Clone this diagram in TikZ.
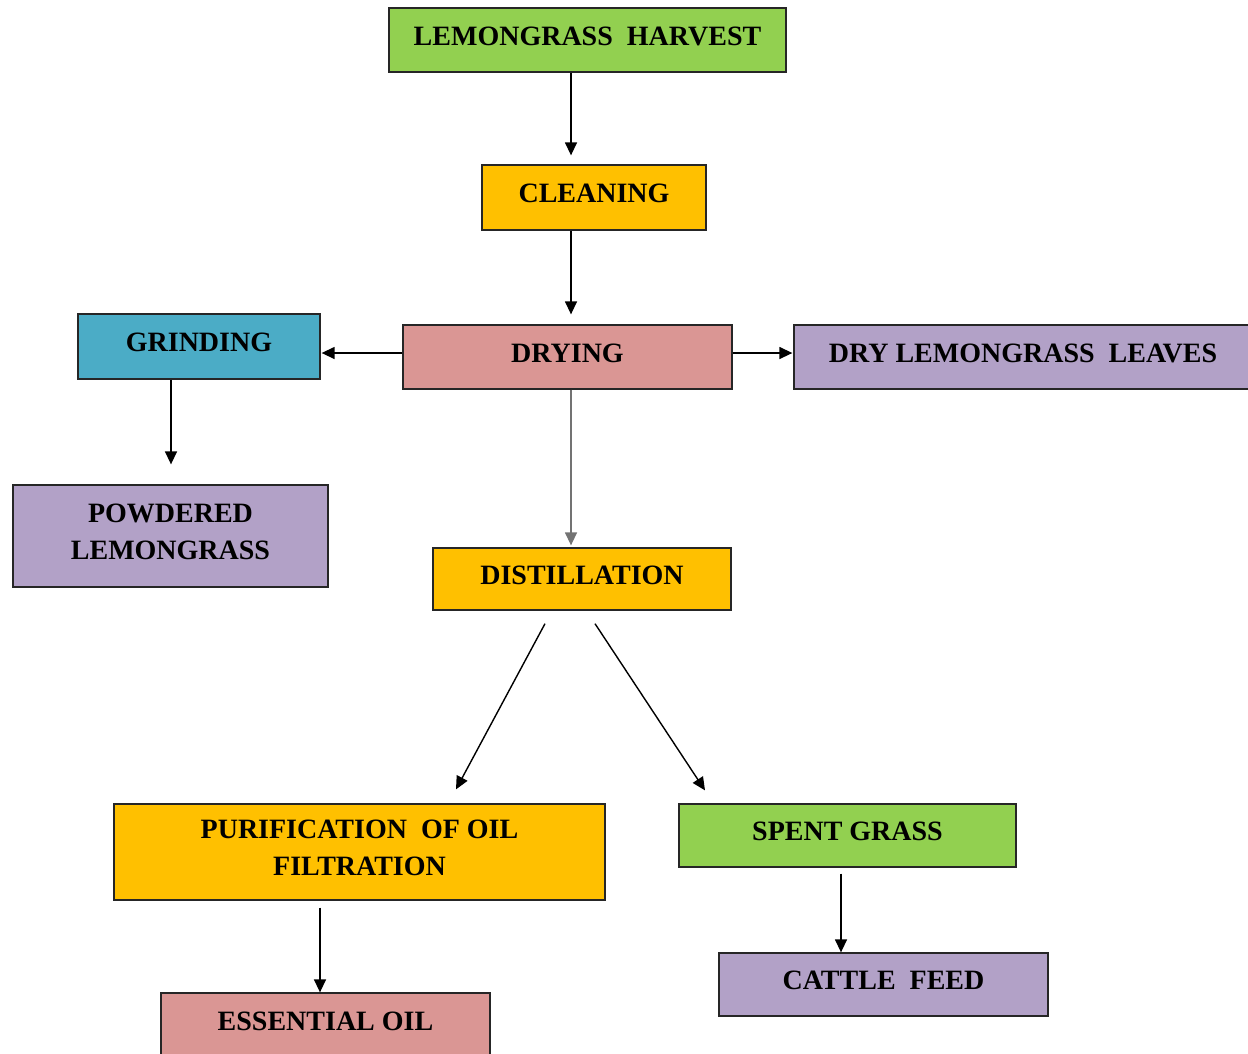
\documentclass[tikz,border=0pt]{standalone}
\usepackage{fontspec}
\setmainfont{Liberation Serif}
\usepackage{tikz}
\usetikzlibrary{%
  arrows.meta,%
  calc%
}
\definecolor{leafgreen}{HTML}{92D050}
\definecolor{gold}{HTML}{FFC000}
\definecolor{rose}{HTML}{DA9694}
\definecolor{lilac}{HTML}{B2A1C7}
\definecolor{teal}{HTML}{4BACC6}
\tikzset{>={Triangle[length=13pt,width=12pt]}}
\tikzset{
  stage/.style={draw=black!85,line width=1.3pt,inner sep=0pt,align=center,
    text depth=8pt,font=\fontsize{28}{37}\selectfont\bfseries},
  flow/.style={->,line width=1.4pt}
}

\begin{document}
\begin{tikzpicture}[x=1pt,y=-1pt]
    \useasboundingbox (0,0) rectangle (1248,1053);
    \node[stage,fill=leafgreen,minimum width=397,minimum height=64] (harvest) at (587.5,40) {LEMONGRASS\enspace HARVEST};
    \node[stage,fill=gold,minimum width=224,minimum height=65] (cleaning) at (594,197.5) {CLEANING};
    \node[stage,fill=rose,minimum width=329,minimum height=64] (drying) at (567.5,357) {DRYING};
    \node[stage,fill=teal,minimum width=242,minimum height=65] (grinding) at (199,346.5) {GRINDING};
    \node[stage,fill=lilac,minimum width=458,minimum height=64] (leaves) at (1023,357) {DRY LEMONGRASS\enspace LEAVES};
    \node[stage,fill=lilac,minimum width=315,minimum height=102] (powder) at (170.5,536) {POWDERED\\LEMONGRASS};
    \node[stage,fill=gold,minimum width=298,minimum height=62] (distil) at (582,579) {DISTILLATION};
    \node[stage,fill=gold,minimum width=491,minimum height=96] (purify) at (359.5,852) {PURIFICATION\enspace OF OIL\\FILTRATION};
    \node[stage,fill=leafgreen,minimum width=337,minimum height=63] (spent) at (847.5,835.5) {SPENT GRASS};
    \node[stage,fill=rose,minimum width=329,minimum height=64] (essoil) at (325.5,1025) {ESSENTIAL OIL};
    \node[stage,fill=lilac,minimum width=329,minimum height=63] (cattle) at (883.5,984.5) {CATTLE\enspace FEED};

    \draw[flow,shorten >=9pt] ([xshift=-16.5pt]harvest.south) -- ([xshift=-16.5pt]harvest.south |- cleaning.north);
    \draw[flow,shorten >=10pt] ([xshift=-23pt]cleaning.south) -- ([xshift=-23pt]cleaning.south |- drying.north);
    \draw[flow,shorten >=1pt] ([yshift=4pt]drying.west) -- ([yshift=4pt]drying.west -| grinding.east);
    \draw[flow,shorten >=1pt] ([yshift=4pt]drying.east) -- ([yshift=4pt]drying.east -| leaves.west);
    \draw[flow,shorten >=20pt] ([xshift=-28pt]grinding.south) -- ([xshift=-28pt]grinding.south |- powder.north);
    \draw[flow,black!55,shorten >=2pt] ([xshift=3.5pt]drying.south) -- ([xshift=3.5pt]drying.south |- distil.north);
    \draw[flow] ([xshift=-37pt,yshift=-13pt]distil.south) -- ([xshift=96.5pt,yshift=14pt]purify.north);
    \draw[flow] ([xshift=13pt,yshift=-13pt]distil.south) -- ([xshift=-142.5pt,yshift=13pt]spent.north);
    \draw[flow] ([xshift=-39.5pt,yshift=-7pt]purify.south) -- ([xshift=-39.5pt]purify.south |- essoil.north);
    \draw[flow] ([xshift=-6.5pt,yshift=-6pt]spent.south) -- ([xshift=-6.5pt]spent.south |- cattle.north);
\end{tikzpicture}
\end{document}
